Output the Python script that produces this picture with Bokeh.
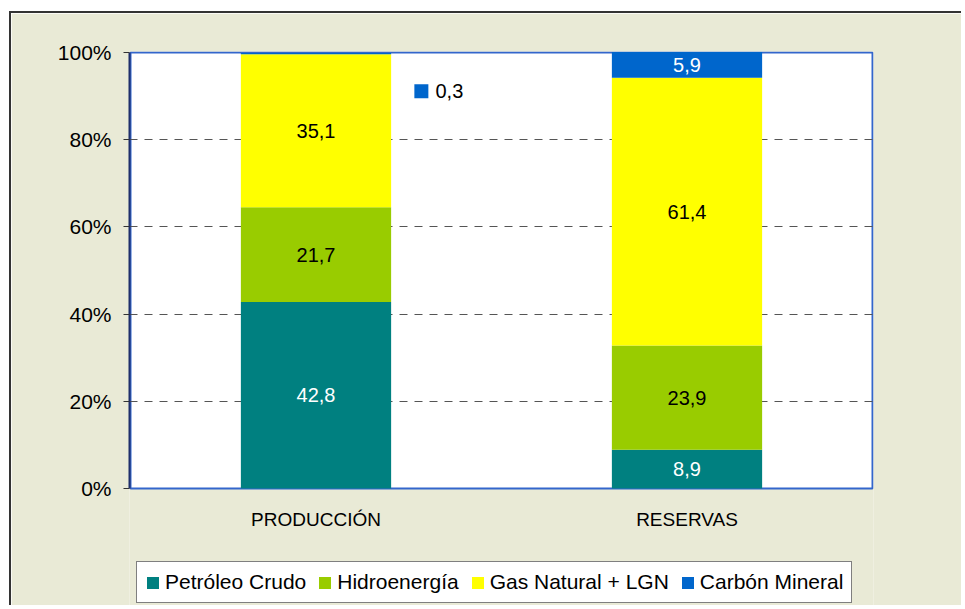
from bokeh.plotting import figure
from bokeh.models import (ColumnDataSource, Range1d, FactorRange, FixedTicker,
                          PrintfTickFormatter, Legend, LegendItem, BoxAnnotation)
from bokeh.transform import dodge
from bokeh.core.properties import value
from bokeh.embed import file_html
from bokeh.resources import INLINE

# ---- data ----
categories = ["PRODUCCIÓN", "RESERVAS"]
series_names = ["Petróleo Crudo", "Hidroenergía", "Gas Natural + LGN", "Carbón Mineral"]
petroleo = [42.8, 8.9]
hidro = [21.7, 23.9]
gas = [35.1, 61.4]
carbon = [0.3, 5.9]
y_ticks = [0, 20, 40, 60, 80, 100]

colors = ["#008080", "#99CC00", "#FFFF00", "#0066CC"]
label_colors = ["white", "black", "black", "white"]
FONT = "Liberation Sans"
BG = "#E9EAD6"
BORDER_BLUE = "#3366CC"

# ---- layout (pixels) ----
PLOT_H = 436.0            # height of the 0..100 % plot area
EXTRA_BELOW = 117.0       # frame space below 0 % that holds category names + legend
px = PLOT_H / 100.0
y_start = -EXTRA_BELOW / px
y_end = 100 + 1.0 / px

keys = ["petroleo", "hidro", "gas", "carbon"]
src = ColumnDataSource(dict(cat=categories, petroleo=petroleo, hidro=hidro,
                            gas=gas, carbon=carbon))

p = figure(x_range=FactorRange(factors=categories, range_padding=2 / 742),
           y_range=Range1d(y_start, y_end), width=952, height=594,
           output_backend="svg", toolbar_location=None,
           min_border_left=118, min_border_right=90, min_border_top=38,
           min_border_bottom=2)
p.styles = {"border-top": "2px solid #333333", "border-left": "2px solid #333333",
            "margin-left": "9px", "margin-top": "11px"}
p.background_fill_color = BG
p.border_fill_color = BG
p.outline_line_color = None

# white plot area with blue border (0..100 %)
p.add_layout(BoxAnnotation(left=0, right=len(categories), bottom=0, top=100,
                           fill_color="white", fill_alpha=1,
                           line_color=BORDER_BLUE, line_width=2, line_alpha=1,
                           level="image"))

renderers = p.vbar_stack(keys, x="cat", width=0.405, color=colors, line_color=None,
                         source=src)

# data labels (inside segments)
lx, ly, lt, lc = [], [], [], []
for i, c in enumerate(categories):
    base = 0.0
    for k, arr in enumerate([petroleo, hidro, gas, carbon]):
        v = arr[i]
        if v >= 1:
            lx.append(c)
            ly.append(base + v / 2)
            lt.append(f"{v:.1f}".replace(".", ","))
            lc.append(label_colors[k])
        base += v
lsrc = ColumnDataSource(dict(x=lx, y=ly, t=lt, c=lc))
p.text(x="x", y="y", text="t", text_color="c", source=lsrc, text_align="center",
       text_baseline="middle", text_font=value(FONT), text_font_size="20px")

# small outside label for the tiny value
small_src = ColumnDataSource(dict(x=[categories[0]], y=[100 - 8.9],
                                  t=[f"{carbon[0]:.1f}".replace(".", ",")]))
p.scatter(x=dodge("x", 0.284, range=p.x_range), y="y", source=small_src,
          marker="square", size=14, color=colors[3], line_color=None)
p.text(x=dodge("x", 0.322, range=p.x_range), y="y", text="t", source=small_src,
       text_align="left", text_baseline="middle", text_color="black",
       text_font=value(FONT), text_font_size="20px")

# category names under the 0 % line
csrc = ColumnDataSource(dict(x=categories, y=[0] * len(categories), t=categories))
p.text(x="x", y="y", text="t", source=csrc, y_offset=31, text_align="center",
       text_baseline="middle", text_color="black", text_font=value(FONT),
       text_font_size="19px")

# axes
p.yaxis.ticker = FixedTicker(ticks=y_ticks)
p.yaxis.bounds = (0, 100)
p.yaxis.formatter = PrintfTickFormatter(format="%d%%")
p.yaxis.major_tick_out = 6
p.yaxis.major_tick_in = 0
p.yaxis.minor_tick_line_color = None
p.yaxis.major_tick_line_color = "#333333"
p.yaxis.axis_line_color = "#1F2F6B"
p.yaxis.axis_line_width = 2
p.yaxis.major_label_standoff = 12
p.yaxis.major_label_text_font = FONT
p.yaxis.major_label_text_font_size = "21px"
p.yaxis.major_label_text_color = "black"

p.xaxis.visible = False

p.xgrid.grid_line_color = None
p.ygrid.ticker = FixedTicker(ticks=y_ticks[1:-1])
p.ygrid.grid_line_color = "#555555"
p.ygrid.grid_line_dash = "8 7"
p.ygrid.grid_line_width = 1

legend = Legend(items=[LegendItem(label=n, renderers=[r]) for n, r in zip(series_names, renderers)],
                orientation="horizontal", location=(7, 2),
                glyph_width=15, glyph_height=15, label_standoff=5, spacing=11,
                padding=8, margin=0, label_height=20,
                label_text_font=FONT, label_text_font_size="21px",
                label_text_color="black",
                border_line_color="#000000", border_line_width=1,
                background_fill_color="white", background_fill_alpha=1)
p.add_layout(legend, "center")

open("out.html", "w").write(file_html(p, INLINE))
